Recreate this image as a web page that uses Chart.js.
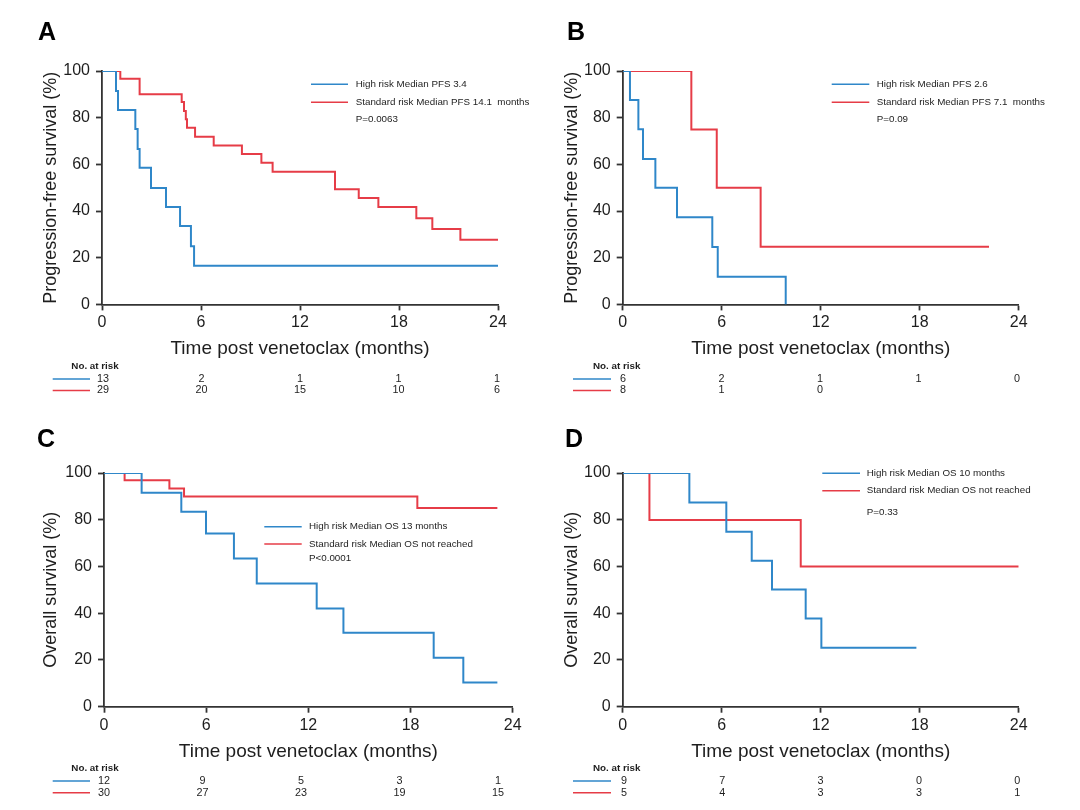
<!DOCTYPE html>
<html><head><meta charset="utf-8">
<script src="https://cdn.jsdelivr.net/npm/chart.js@4.4.1/dist/chart.umd.min.js"></script>
<style>
html,body{margin:0;padding:0;background:#fff;}
#wrap{position:relative;width:1080px;height:810px;background:#fff;}
canvas{position:absolute;}
</style></head><body>
<div id="wrap">
<canvas id="cA" width="540" height="405" style="left:0;top:0"></canvas>
<canvas id="cB" width="540" height="405" style="left:540px;top:0"></canvas>
<canvas id="cC" width="540" height="405" style="left:0;top:405px"></canvas>
<canvas id="cD" width="540" height="405" style="left:540px;top:405px"></canvas>
</div>
<script>
// ---- data ----
const monthTicks = [0, 6, 12, 18, 24];
const groupNames = ['High risk', 'Standard risk'];

const aHighTime = [0, 0.85, 0.97, 2.02, 2.16, 2.28, 2.97, 3.88, 4.73, 5.39, 5.58, 24];
const aHighSurv = [100, 91.4, 83.3, 75.1, 66.6, 58.6, 49.9, 41.7, 33.6, 24.9, 16.6, 16.6];
const aStdTime = [0, 1.11, 2.28, 4.83, 4.97, 5.08, 5.15, 5.64, 6.77, 8.48, 9.66, 10.34, 14.12, 15.56, 16.75, 19.05, 20.02, 21.72, 24];
const aStdSurv = [100, 96.7, 90, 86.7, 82.9, 79.3, 75.7, 71.8, 68.1, 64.4, 60.7, 56.8, 49.3, 45.6, 41.7, 36.9, 32.3, 27.7, 27.7];

const bHighTime = [0, 0.44, 0.95, 1.23, 1.98, 3.29, 5.43, 5.76, 9.88];
const bHighSurv = [100, 87.6, 75, 62.3, 50, 37.3, 24.6, 11.9, 0];
const bStdTime = [0, 4.16, 5.70, 8.36, 22.2];
const bStdSurv = [100, 74.9, 50, 24.7, 24.7];

const cHighTime = [0, 2.21, 4.54, 5.99, 7.63, 8.97, 12.49, 14.06, 19.36, 21.1, 23.1];
const cHighSurv = [100, 91.6, 83.4, 74.1, 63.4, 52.7, 42, 31.6, 20.9, 10.4, 10.4];
const cStdTime = [0, 1.21, 3.84, 4.70, 18.4, 23.1];
const cStdSurv = [100, 96.9, 93.4, 89.9, 85, 85];

const dHighTime = [0, 4.04, 6.28, 7.82, 9.05, 11.09, 12.04, 17.8];
const dHighSurv = [100, 87.4, 74.9, 62.5, 50.1, 37.7, 25.2, 25.2];
const dStdTime = [0, 1.62, 10.79, 24];
const dStdSurv = [100, 79.9, 60, 60];

const riskA = [[13, 2, 1, 1, 1], [29, 20, 15, 10, 6]];
const riskB = [[6, 2, 1, 1, 0], [8, 1, 0]];
const riskC = [[12, 9, 5, 3, 1], [30, 27, 23, 19, 15]];
const riskD = [[9, 7, 3, 0, 0], [5, 4, 3, 3, 1]];

const legendA = ['High risk Median PFS 3.4', 'Standard risk Median PFS 14.1  months', 'P=0.0063'];
const legendB = ['High risk Median PFS 2.6', 'Standard risk Median PFS 7.1  months', 'P=0.09'];
const legendC = ['High risk Median OS 13 months', 'Standard risk Median OS not reached', 'P<0.0001'];
const legendD = ['High risk Median OS 10 months', 'Standard risk Median OS not reached', 'P=0.33'];

// ---- styles ----
const FONT = "'Liberation Sans', Arial, Helvetica, sans-serif";
const BLUE = '#2f87c9';
const RED = '#e63c47';
const AXIS = '#333333';
const TXT = '#1e1e1e';

const pts = (t, s) => t.map((x, i) => ({ x: x, y: s[i] }));

const kmExtras = {
  id: 'kmExtras',
  afterDraw(chart, args, o) {
    const ctx = chart.ctx;
    ctx.save();
    ctx.fillStyle = '#000';
    ctx.font = 'bold 25px ' + FONT;
    ctx.textAlign = 'center';
    ctx.textBaseline = 'middle';
    ctx.fillText(o.letter, o.letterX, o.letterY);
    // legend
    ctx.font = '9.8px ' + FONT;
    ctx.textAlign = 'left';
    chart.data.datasets.forEach((ds, i) => {
      const y = o.legY[i];
      ctx.strokeStyle = ds.borderColor;
      ctx.lineWidth = 1.6;
      ctx.beginPath(); ctx.moveTo(o.legX1, y); ctx.lineTo(o.legX2, y); ctx.stroke();
      ctx.fillStyle = TXT;
      ctx.fillText(o.legend[i], o.legTextX, y);
    });
    ctx.fillText(o.legend[2], o.legTextX, o.pY);
    // risk table
    ctx.fillStyle = TXT;
    ctx.font = 'bold 9.8px ' + FONT;
    ctx.textAlign = 'center';
    ctx.fillText('No. at risk', o.riskTitleX, o.riskTitleY);
    ctx.font = '10.8px ' + FONT;
    o.risk.forEach((row, r) => {
      const y = o.riskY[r];
      const ds = chart.data.datasets[r];
      ctx.strokeStyle = ds.borderColor;
      ctx.lineWidth = 1.6;
      ctx.beginPath(); ctx.moveTo(o.riskLineX1, y); ctx.lineTo(o.riskLineX2, y); ctx.stroke();
      ctx.fillStyle = TXT;
      row.forEach((n, k) => ctx.fillText(String(n), o.riskX0 + k * o.riskStep, y));
    });
    ctx.restore();
  }
};

function makePanel(id, p) {
  return new Chart(document.getElementById(id), {
    type: 'line',
    data: {
      datasets: [
        { label: groupNames[0], data: pts(p.hiT, p.hiS), borderColor: BLUE, borderWidth: 2, stepped: 'before', pointRadius: 0, fill: false },
        { label: groupNames[1], data: pts(p.stT, p.stS), borderColor: RED, borderWidth: 2, stepped: 'before', pointRadius: 0, fill: false }
      ]
    },
    options: {
      responsive: false,
      animation: false,
      events: [],
      layout: { padding: p.pad },
      plugins: { legend: { display: false }, tooltip: { enabled: false }, kmExtras: p.extras },
      scales: {
        x: {
          type: 'linear', min: 0, max: 24,
          afterBuildTicks: s => { s.ticks = monthTicks.map(v => ({ value: v })); },
          afterFit: s => { s.height = p.xH; },
          ticks: { color: TXT, font: { family: FONT, size: 16 }, padding: 3, maxRotation: 0 },
          grid: { display: true, drawOnChartArea: false, drawTicks: true, tickLength: 6, tickColor: AXIS, tickWidth: 1.8 },
          border: { display: true, color: AXIS, width: 1.8 },
          title: { display: true, text: 'Time post venetoclax (months)', color: TXT, font: { family: FONT, size: 19 }, padding: { top: 0, bottom: 0 } }
        },
        y: {
          type: 'linear', min: 0, max: 100,
          ticks: { stepSize: 20, color: TXT, font: { family: FONT, size: 16 }, padding: 6 },
          afterFit: s => { s.width = p.yW; },
          grid: { display: true, drawOnChartArea: false, drawTicks: true, tickLength: 6, tickColor: AXIS, tickWidth: 1.8 },
          border: { display: true, color: AXIS, width: 1.8 },
          title: { display: true, text: p.yTitle, color: TXT, font: { family: FONT, size: 18 }, padding: { top: p.yTP, bottom: 0 } }
        }
      }
    },
    plugins: [kmExtras]
  });
}

makePanel('cA', {
  hiT: aHighTime, hiS: aHighSurv, stT: aStdTime, stS: aStdSurv,
  pad: { left: 0, top: 71, right: 42, bottom: 44.6 }, xH: 56, yW: 102, yTP: 40,
  yTitle: 'Progression-free survival (%)',
  extras: { letter: 'A', letterX: 47, letterY: 33, legend: legendA, legX1: 311, legX2: 348, legTextX: 355.7, legY: [84.3, 102.3], pY: 119,
    risk: riskA, riskTitleX: 95, riskTitleY: 366.7, riskY: [379, 390.5], riskLineX1: 52.7, riskLineX2: 90, riskX0: 103, riskStep: 98.5 }
});
makePanel('cB', {
  hiT: bHighTime, hiS: bHighSurv, stT: bStdTime, stS: bStdSurv,
  pad: { left: 0, top: 71, right: 61.3, bottom: 44.6 }, xH: 56, yW: 82.7, yTP: 21,
  yTitle: 'Progression-free survival (%)',
  extras: { letter: 'B', letterX: 36, letterY: 33, legend: legendB, legX1: 291.7, legX2: 329.3, legTextX: 336.7, legY: [84.3, 102.3], pY: 119,
    risk: riskB, riskTitleX: 76.7, riskTitleY: 366.7, riskY: [379, 390.5], riskLineX1: 33, riskLineX2: 71, riskX0: 83, riskStep: 98.5 }
});
makePanel('cC', {
  hiT: cHighTime, hiS: cHighSurv, stT: cStdTime, stS: cStdSurv,
  pad: { left: 0, top: 68, right: 27.3, bottom: 46.6 }, xH: 56.7, yW: 104, yTP: 40,
  yTitle: 'Overall survival (%)',
  extras: { letter: 'C', letterX: 46, letterY: 35, legend: legendC, legX1: 264.3, legX2: 301.7, legTextX: 309, legY: [121.7, 139], pY: 153.3,
    risk: riskC, riskTitleX: 95, riskTitleY: 363.3, riskY: [376, 387.7], riskLineX1: 52.7, riskLineX2: 90, riskX0: 104, riskStep: 98.5 }
});
makePanel('cD', {
  hiT: dHighTime, hiS: dHighSurv, stT: dStdTime, stS: dStdSurv,
  pad: { left: 0, top: 68, right: 61.3, bottom: 46.6 }, xH: 56.7, yW: 82.7, yTP: 21,
  yTitle: 'Overall survival (%)',
  extras: { letter: 'D', letterX: 34, letterY: 35, legend: legendD, legX1: 282.3, legX2: 320, legTextX: 326.7, legY: [68.3, 85.7], pY: 107.7,
    risk: riskD, riskTitleX: 76.7, riskTitleY: 363.3, riskY: [376, 387.7], riskLineX1: 33, riskLineX2: 71, riskX0: 84, riskStep: 98.3 }
});
</script>
</body></html>
